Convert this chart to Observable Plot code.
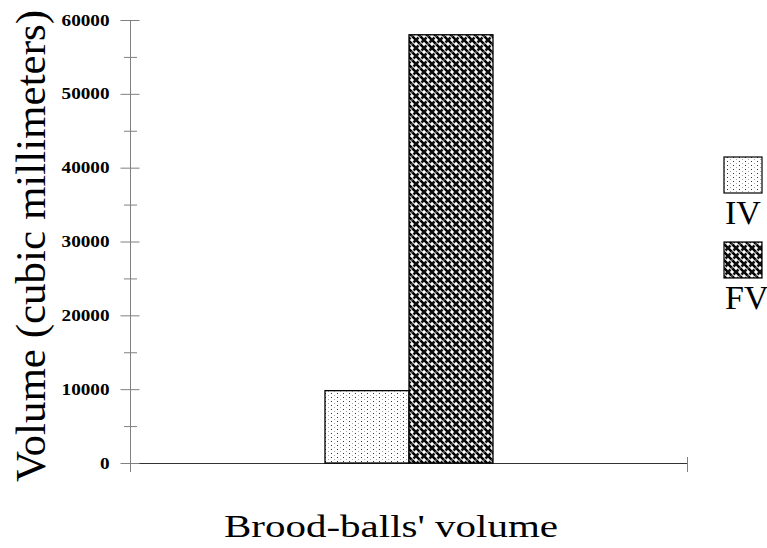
<!DOCTYPE html>
<html>
<head>
<meta charset="utf-8">
<script src="https://cdn.jsdelivr.net/npm/d3@7"></script>
<script src="https://cdn.jsdelivr.net/npm/@observablehq/plot@0.6"></script>
<style>
  body { margin: 0; background: #fff; }
  #wrap { position: relative; width: 767px; height: 548px; font-family: "Liberation Serif", serif; }
  #legend { position: absolute; left: 0; top: 0; }
</style>
</head>
<body>
<svg width="0" height="0" style="position:absolute">
  <defs>
    <pattern id="pIV" patternUnits="userSpaceOnUse" width="6" height="4">
      <rect width="6" height="4" fill="#fff"/>
      <rect x="1" y="1" width="1" height="1" fill="#333"/>
      <rect x="4" y="3" width="1" height="1" fill="#aaa"/>
    </pattern>
    <pattern id="pFV" patternUnits="userSpaceOnUse" width="8" height="8">
      <rect width="8" height="8" fill="#fff"/>
      <path d="M0,0L8,8M-4,4L4,12M4,-4L12,4" stroke="#000" stroke-width="2.6"/>
      <path d="M-1,1L1,-1M0,8L2.5,5.5M5.5,2.5L8,0M7,9L9,7" stroke="#111" stroke-width="2.6"/>
      <rect x="3.5" y="3.5" width="1" height="1" fill="#fff"/>
    </pattern>
  </defs>
</svg>
<div id="wrap"></div>
<script>
const series = ["IV", "FV"];
const values = [9800, 58000];
const majorTicks = [0, 10000, 20000, 30000, 40000, 50000, 60000];
const minorTicks = [5000, 15000, 25000, 35000, 45000, 55000];
const yLabel = "Volume (cubic millimeters)";
const xLabel = "Brood-balls' volume";
const patterns = {IV: "url(#pIV)", FV: "url(#pFV)"};

const data = series.map((s, i) => ({series: s, value: values[i]}));

const chart = Plot.plot({
  width: 767,
  height: 500,
  marginLeft: 130,
  marginRight: 80,
  marginTop: 20,
  marginBottom: 29,
  style: {fontFamily: "Liberation Serif", background: "#fff", color: "#000"},
  x: {type: "band", domain: series, paddingInner: 0, paddingOuter: 2.315, axis: null},
  y: {domain: [0, 60000], insetBottom: 8},
  color: {type: "identity"},
  marks: [
    Plot.frame({anchor: "left", stroke: "#808080"}),
    Plot.ruleY([0], {stroke: "#333", strokeWidth: 1.2}),
    Plot.frame({anchor: "right", stroke: "#808080", insetTop: 437}),
    Plot.barY(data, {x: "series", y: "value", fill: d => patterns[d.series], stroke: "#000", strokeWidth: 1.3}),
    Plot.axisY(majorTicks, {tickSize: 19, dx: 9.5, tickFormat: () => "", stroke: "#808080", label: null}),
    Plot.axisY(minorTicks, {tickSize: 13, dx: 7, tickFormat: () => "", stroke: "#808080", label: null}),
    Plot.axisY(majorTicks, {tickSize: 0, tickPadding: 21, tickFormat: d => String(d), fontSize: 16, fontWeight: "bold", fill: "#000", label: null}),
    Plot.axisY([], {tickSize: 0, label: yLabel, labelAnchor: "center", labelArrow: "none", labelOffset: 116, fontSize: 43, fill: "#000"})
  ]
});

// widen tick labels horizontally like the reference
d3.select(chart).selectAll('g[aria-label="y-axis tick label"] text').each(function() {
  const t = this.getAttribute("transform") || "";
  this.setAttribute("transform", t + " scale(1.2,1)");
});

const wrap = document.getElementById("wrap");
wrap.appendChild(chart);

// legend
const lg = d3.select(wrap).append("svg").attr("id", "legend").attr("width", 767).attr("height", 500);
series.forEach((s, i) => {
  const y0 = 157 + i * 85;
  lg.append("rect").attr("x", 724).attr("y", y0).attr("width", 38).attr("height", 36)
    .attr("fill", patterns[s]).attr("stroke", "#000").attr("stroke-width", 1.2);
  lg.append("text").attr("x", 725).attr("y", y0 + 67).attr("font-size", 34)
    .attr("font-family", "Liberation Serif").attr("fill", "#000").text(s);
});

// x axis title below the chart
const xl = d3.select(wrap).append("svg").attr("width", 767).attr("height", 48).style("display", "block");
xl.append("text").attr("transform", "translate(391,37) scale(1,0.78)")
  .attr("text-anchor", "middle").attr("font-size", 41).attr("font-family", "Liberation Serif")
  .attr("fill", "#000").text(xLabel);
</script>
</body>
</html>
